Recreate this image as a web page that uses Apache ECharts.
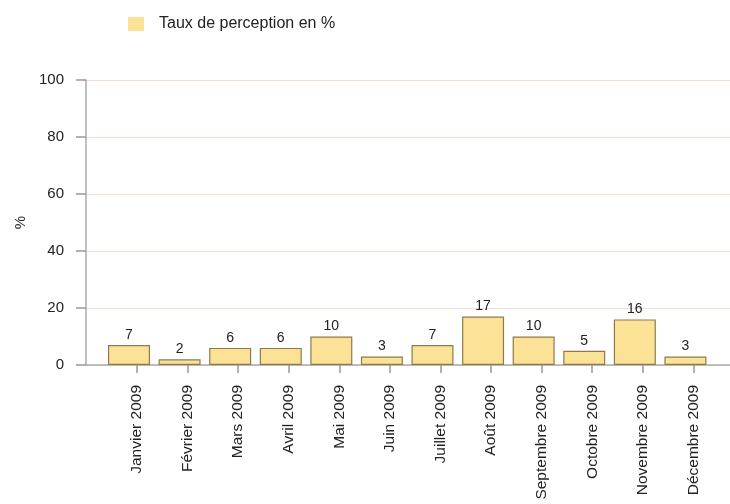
<!DOCTYPE html>
<html>
<head>
<meta charset="utf-8">
<style>
  html, body { margin: 0; padding: 0; background: #fff; }
  #chart { width: 730px; height: 504px; }
</style>
<script src="https://cdn.jsdelivr.net/npm/echarts@6/dist/echarts.min.js"></script>
</head>
<body>
<div id="chart"></div>
<script>
// Monthly perception rate, 2009
var months = ['Janvier 2009', 'Février 2009', 'Mars 2009', 'Avril 2009', 'Mai 2009', 'Juin 2009',
              'Juillet 2009', 'Août 2009', 'Septembre 2009', 'Octobre 2009', 'Novembre 2009', 'Décembre 2009'];
var rates = [7, 2, 6, 6, 10, 3, 7, 17, 10, 5, 16, 3];
var seriesName = 'Taux de perception en %';
var yMin = 0, yMax = 100, yStep = 20;

var FONT = '"Liberation Sans", Arial, sans-serif';
var chart = echarts.init(document.getElementById('chart'), null, { renderer: 'canvas' });

var plotTop = 80, plotBottom = 139;
chart.setOption({
  animation: false,
  backgroundColor: '#ffffff',
  textStyle: { fontFamily: FONT },
  legend: {
    left: 123, top: 11,
    itemWidth: 16, itemHeight: 14,
    icon: 'rect',
    data: [seriesName],
    itemStyle: { borderWidth: 0 },
    textStyle: { fontFamily: FONT, fontSize: 16, color: '#222', padding: [0, 0, 0, 10] }
  },
  grid: [
    // frame: value axis, grid lines and baseline
    { left: 86, right: 0, top: plotTop, bottom: plotBottom },
    // month ticks and labels
    { left: 111.7, width: 607, top: plotTop, bottom: plotBottom },
    // bars
    { left: 103.7, width: 607, top: plotTop, bottom: plotBottom }
  ],
  xAxis: [
    { gridIndex: 0, type: 'value', min: 0, max: 1,
      axisLine: { show: true, lineStyle: { color: '#aaa', width: 1.5 } },
      axisTick: { show: false }, axisLabel: { show: false }, splitLine: { show: false } },
    { gridIndex: 1, type: 'category', data: months,
      axisLine: { show: false },
      axisTick: { show: true, alignWithLabel: true, length: 8, lineStyle: { color: '#999', width: 1.5 } },
      offset: 2,
      axisLabel: { rotate: 90, margin: 18, fontSize: 15.5, color: '#222', fontFamily: FONT, interval: 0 } },
    { gridIndex: 2, type: 'category', data: months, show: false }
  ],
  yAxis: [
    { gridIndex: 0, type: 'value', min: yMin, max: yMax, interval: yStep,
      name: '%', nameLocation: 'middle', nameRotate: 90, nameGap: 58,
      nameTextStyle: { fontSize: 15, color: '#222', fontFamily: FONT },
      axisLine: { show: true, lineStyle: { color: '#aaa', width: 1.5 } },
      axisTick: { show: true, length: 10, lineStyle: { color: '#999', width: 1.5 } },
      axisLabel: { margin: 22, fontSize: 15, color: '#222', fontFamily: FONT },
      splitLine: { show: true, lineStyle: { color: '#f1ddd3', width: 1 } } },
    { gridIndex: 1, type: 'value', min: yMin, max: yMax, show: false },
    { gridIndex: 2, type: 'value', min: yMin, max: yMax, show: false }
  ],
  series: [{
    name: seriesName,
    type: 'bar',
    xAxisIndex: 2, yAxisIndex: 2,
    data: rates,
    barWidth: 42,
    itemStyle: { color: '#fce296', borderColor: '#8c7b4e', borderWidth: 1.2 },
    label: { show: true, position: 'top', distance: 3, fontSize: 14, color: '#222', fontFamily: FONT }
  }]
});
</script>
</body>
</html>
